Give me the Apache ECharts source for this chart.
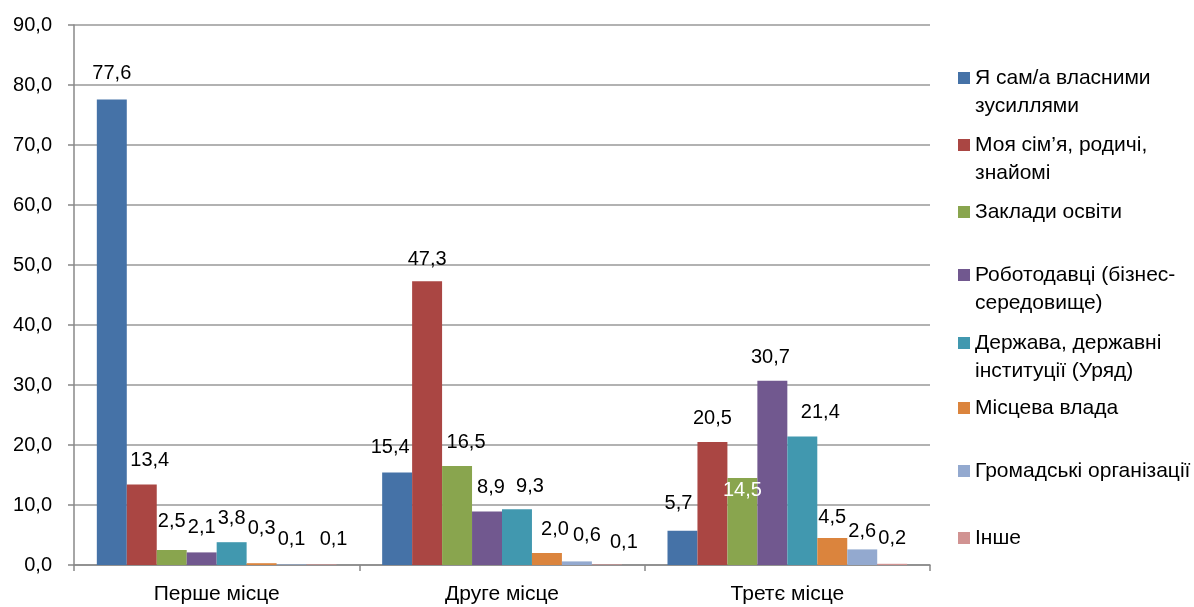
<!DOCTYPE html>
<html>
<head>
<meta charset="utf-8">
<script src="https://cdn.jsdelivr.net/npm/echarts@6/dist/echarts.min.js"></script>
<style>html,body{margin:0;padding:0;background:#fff;}#c{width:1194px;height:607px;}</style>
</head>
<body>
<div id="c"></div>
<script>
const categories = ['Перше місце', 'Друге місце', 'Третє місце'];
const seriesNames = [
  'Я сам/а власними\nзусиллями',
  'Моя сім’я, родичі,\nзнайомі',
  'Заклади освіти',
  'Роботодавці (бізнес-\nсередовище)',
  'Держава, державні\nінституції (Уряд)',
  'Місцева влада',
  'Громадські організації',
  'Інше'
];
const sSelf = [77.6, 15.4, 5.7];
const sFamily = [13.4, 47.3, 20.5];
const sEdu = [2.5, 16.5, 14.5];
const sEmployers = [2.1, 8.9, 30.7];
const sState = [3.8, 9.3, 21.4];
const sLocal = [0.3, 2.0, 4.5];
const sNgo = [0.1, 0.6, 2.6];
const sOther = [0.1, 0.1, 0.2];
const yTicks = [0, 10, 20, 30, 40, 50, 60, 70, 80, 90];

const colors = ['#4572A7', '#AA4643', '#89A54E', '#71588F', '#4198AF', '#DB843D', '#93A9CF', '#D19392'];
const allValues = [sSelf, sFamily, sEdu, sEmployers, sState, sLocal, sNgo, sOther];
const fmt = v => Number(v).toFixed(1).replace('.', ',');
const FONT = 'Liberation Sans, Arial, sans-serif';
const LH = 28;

// label placement tweaks (style only): key "series-category" -> [dx, distance]
const labelTweaks = {
  '0-0': [0, 16], '1-0': [8, 14], '2-0': [0, 19], '3-0': [0, 15], '4-0': [0, 14],
  '5-0': [0, 25], '6-0': [0, 15], '7-0': [12, 15],
  '0-1': [-7, 15], '1-1': [0, 12], '2-1': [9, 14], '3-1': [4, 14], '4-1': [13, 13],
  '5-1': [8, 14], '6-1': [10, 16], '7-1': [17, 12],
  '0-2': [-4, 17], '1-2': [0, 14], '3-2': [-2, 13], '4-2': [18, 14],
  '5-2': [0, 11], '6-2': [0, 8], '7-2': [0, 15]
};

const legendCenters = [78, 145, 212, 275, 343, 408, 471, 538];
const legends = seriesNames.map((n, i) => {
  const twoLine = n.indexOf('\n') >= 0;
  return {
    data: [n],
    orient: 'vertical',
    left: 958,
    top: legendCenters[i] - LH / 2,
    itemWidth: 12,
    itemHeight: twoLine ? 2 * LH : 12,
    itemGap: 0,
    padding: 0,
    selectedMode: false,
    icon: twoLine ? 'path://M0,0L0,0M0,8L12,8L12,20L0,20ZM0,56L0,56' : 'rect',
    textStyle: { fontFamily: FONT, fontSize: 21, color: '#000', lineHeight: LH }
  };
});

const series = seriesNames.map((n, i) => ({
  name: n,
  type: 'bar',
  barGap: 0,
  barCategoryGap: '16%',
  itemStyle: { color: colors[i] },
  label: {
    show: true, position: 'top', distance: 14,
    fontFamily: FONT, fontSize: 20, color: '#000',
    formatter: p => fmt(p.value)
  },
  data: allValues[i].map((v, j) => {
    if (i === 2 && j === 2) {
      return { value: v, label: { position: 'insideTop', color: '#fff', distance: 2 } };
    }
    const t = labelTweaks[i + '-' + j];
    if (t) {
      return { value: v, label: { offset: [t[0], 0], distance: t[1] } };
    }
    return v;
  })
}));

const chart = echarts.init(document.getElementById('c'));
chart.setOption({
  animation: false,
  backgroundColor: '#fff',
  legend: legends,
  grid: { left: 74, right: 264, top: 25, bottom: 42, containLabel: false },
  xAxis: {
    type: 'category',
    data: categories,
    axisLine: { lineStyle: { color: '#888', width: 1.5 } },
    axisTick: { show: true, length: 6, lineStyle: { color: '#888', width: 1.5 } },
    axisLabel: { fontFamily: FONT, fontSize: 21, color: '#000', margin: 19 }
  },
  yAxis: {
    type: 'value',
    min: yTicks[0],
    max: yTicks[yTicks.length - 1],
    interval: 10,
    axisLine: { show: true, lineStyle: { color: '#888', width: 1.5 } },
    axisTick: { show: true, length: 6, lineStyle: { color: '#888', width: 1.5 } },
    splitLine: { show: true, lineStyle: { color: '#999', width: 1.5 } },
    axisLabel: { fontFamily: FONT, fontSize: 20, color: '#000', margin: 22, formatter: v => fmt(v) }
  },
  series: series
});
</script>
</body>
</html>
